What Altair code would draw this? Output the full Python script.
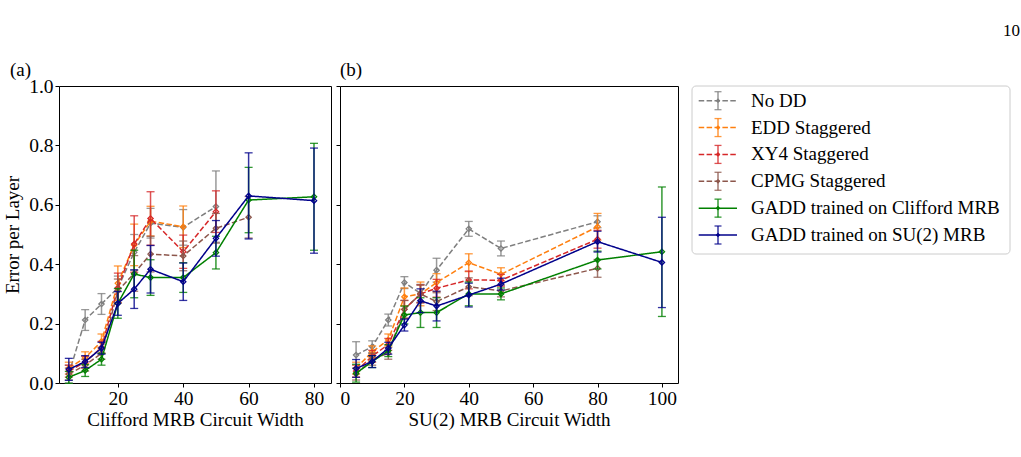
import altair as alt
import pandas as pd

# Series shown in both panels, in drawing order
names = [
    "No DD",
    "EDD Staggered",
    "XY4 Staggered",
    "CPMG Staggered",
    "GADD trained on Clifford MRB",
    "GADD trained on SU(2) MRB",
]
colors = ["#7f7f7f", "#ff7f0e", "#d62728", "#8c564b", "#008000", "#00008b"]
dashes = [[5.5, 2.4], [5.5, 2.4], [5.5, 2.4], [5.5, 2.4], [1, 0], [1, 0]]

# (a) Clifford MRB: circuit widths and error per layer (mean, error bar half-width)
a_x = {
    "No DD": [5, 10, 15, 20, 25, 30, 40, 50],
    "EDD Staggered": [5, 10, 15, 20, 25, 30, 40],
    "XY4 Staggered": [5, 10, 15, 20, 25, 30, 40, 50],
    "CPMG Staggered": [5, 10, 15, 20, 25, 30, 40, 50, 60],
    "GADD trained on Clifford MRB": [5, 10, 15, 20, 25, 30, 40, 50, 60, 80],
    "GADD trained on SU(2) MRB": [5, 10, 15, 20, 25, 30, 40, 50, 60, 80],
}
a_y = {
    "No DD": [0.030, 0.212, 0.266, 0.320, 0.440, 0.538, 0.524, 0.594],
    "EDD Staggered": [0.050, 0.085, 0.140, 0.336, 0.465, 0.545, 0.526],
    "XY4 Staggered": [0.040, 0.070, 0.120, 0.320, 0.468, 0.554, 0.442, 0.577],
    "CPMG Staggered": [0.030, 0.060, 0.100, 0.310, 0.369, 0.434, 0.428, 0.521, 0.558],
    "GADD trained on Clifford MRB": [0.019, 0.042, 0.080, 0.268, 0.367, 0.355, 0.355, 0.439, 0.616, 0.627],
    "GADD trained on SU(2) MRB": [0.046, 0.072, 0.117, 0.268, 0.316, 0.383, 0.341, 0.487, 0.630, 0.614],
}
a_err = {
    "No DD": [0.030, 0.035, 0.035, 0.040, 0.060, 0.050, 0.060, 0.120],
    "EDD Staggered": [0.020, 0.020, 0.025, 0.058, 0.070, 0.050, 0.070],
    "XY4 Staggered": [0.020, 0.020, 0.020, 0.050, 0.095, 0.090, 0.056, 0.070],
    "CPMG Staggered": [0.020, 0.020, 0.020, 0.040, 0.060, 0.060, 0.050, 0.050, 0.070],
    "GADD trained on Clifford MRB": [0.020, 0.020, 0.020, 0.050, 0.080, 0.060, 0.050, 0.055, 0.110, 0.180],
    "GADD trained on SU(2) MRB": [0.037, 0.020, 0.020, 0.040, 0.065, 0.080, 0.063, 0.060, 0.145, 0.177],
}

# (b) SU(2) MRB
b_x = {
    "No DD": [5, 10, 15, 20, 25, 30, 40, 50, 80],
    "EDD Staggered": [5, 10, 15, 20, 25, 30, 40, 50, 80],
    "XY4 Staggered": [5, 10, 15, 20, 25, 30, 40, 50, 80],
    "CPMG Staggered": [5, 10, 15, 20, 25, 30, 40, 50, 80],
    "GADD trained on Clifford MRB": [5, 10, 15, 20, 25, 30, 40, 50, 80, 100],
    "GADD trained on SU(2) MRB": [5, 10, 15, 20, 25, 30, 40, 50, 80, 100],
}
b_y = {
    "No DD": [0.094, 0.122, 0.212, 0.338, 0.302, 0.380, 0.519, 0.453, 0.543],
    "EDD Staggered": [0.050, 0.105, 0.145, 0.290, 0.300, 0.338, 0.405, 0.366, 0.526],
    "XY4 Staggered": [0.040, 0.090, 0.130, 0.248, 0.300, 0.319, 0.347, 0.346, 0.484],
    "CPMG Staggered": [0.030, 0.080, 0.100, 0.248, 0.300, 0.274, 0.324, 0.310, 0.386],
    "GADD trained on Clifford MRB": [0.033, 0.072, 0.109, 0.229, 0.237, 0.237, 0.300, 0.300, 0.414, 0.442],
    "GADD trained on SU(2) MRB": [0.049, 0.072, 0.117, 0.195, 0.277, 0.259, 0.296, 0.333, 0.476, 0.406],
}
b_err = {
    "No DD": [0.045, 0.020, 0.020, 0.020, 0.030, 0.040, 0.025, 0.025, 0.020],
    "EDD Staggered": [0.020, 0.020, 0.020, 0.030, 0.040, 0.030, 0.030, 0.022, 0.045],
    "XY4 Staggered": [0.020, 0.020, 0.020, 0.030, 0.030, 0.030, 0.030, 0.020, 0.030],
    "CPMG Staggered": [0.020, 0.020, 0.020, 0.030, 0.030, 0.030, 0.030, 0.020, 0.030],
    "GADD trained on Clifford MRB": [0.030, 0.020, 0.020, 0.030, 0.050, 0.050, 0.040, 0.020, 0.030, 0.218],
    "GADD trained on SU(2) MRB": [0.030, 0.020, 0.020, 0.020, 0.040, 0.050, 0.040, 0.020, 0.035, 0.152],
}

a_ticks = [20, 40, 60, 80]
b_ticks = [0, 20, 40, 60, 80, 100]
y_ticks = [0.0, 0.2, 0.4, 0.6, 0.8, 1.0]

FONT = "Liberation Serif"


def frame(xs, ys, errs):
    rows = []
    for s in names:
        for x, y, e in zip(xs[s], ys[s], errs[s]):
            rows.append({"series": s, "x": x, "y": y, "lo": y - e, "hi": y + e})
    return pd.DataFrame(rows)


color_scale = alt.Scale(domain=names, range=colors)
dash_scale = alt.Scale(domain=names, range=dashes)


def panel(df, xdomain, xticks, xtitle, show_y):
    x = alt.X(
        "x:Q",
        scale=alt.Scale(domain=xdomain, nice=False, zero=False),
        axis=alt.Axis(values=xticks, title=xtitle),
    )
    yaxis = alt.Axis(values=y_ticks, format=".1f", title="Error per Layer" if show_y else None,
                     labels=show_y)
    yscale = alt.Scale(domain=[0, 1], nice=False)
    color = alt.Color("series:N", scale=color_scale, legend=None)
    layers = []
    for s in names:
        base = alt.Chart(df).transform_filter(alt.datum.series == s)
        line = base.mark_line(strokeWidth=1.5).encode(
            x=x, y=alt.Y("y:Q", scale=yscale, axis=yaxis), color=color,
            strokeDash=alt.StrokeDash("series:N", scale=dash_scale, legend=None),
        )
        bar = base.mark_rule(strokeWidth=1.5, opacity=0.8).encode(
            x=x, y=alt.Y("lo:Q", scale=yscale), y2="hi:Q", color=color
        )
        cap_lo = base.mark_tick(orient="horizontal", size=8, thickness=1.3, opacity=0.8).encode(
            x=x, y=alt.Y("lo:Q", scale=yscale), color=color
        )
        cap_hi = base.mark_tick(orient="horizontal", size=8, thickness=1.3, opacity=0.8).encode(
            x=x, y=alt.Y("hi:Q", scale=yscale), color=color
        )
        pts = base.mark_point(shape="diamond", size=28, filled=False, strokeWidth=1.3, opacity=1).encode(
            x=x, y=alt.Y("y:Q", scale=yscale), color=color
        )
        layers += [line, bar, cap_lo, cap_hi, pts]
    return alt.layer(*layers)


df_a = frame(a_x, a_y, a_err)
df_b = frame(b_x, b_y, b_err)

title_props = dict(anchor="start", frame="group", fontSize=19, font=FONT, fontWeight="normal",
                   offset=6, color="black")

pa = panel(df_a, [2.0, 85.2], a_ticks, "Clifford MRB Circuit Width", True).properties(
    width=272, height=297,
    title=alt.TitleParams("(a)", dx=-49, dy=10, **title_props),
    view=alt.ViewBackground(stroke="black", strokeWidth=1),
)
pb = panel(df_b, [0, 105], b_ticks, "SU(2) MRB Circuit Width", False).properties(
    width=338, height=297,
    title=alt.TitleParams("(b)", **title_props),
    view=alt.ViewBackground(stroke="black", strokeWidth=1),
)

# Legend panel built from the series list
leg_df = pd.DataFrame({"series": names})
ly = alt.Y("series:N", scale=alt.Scale(type="point", domain=names, range=[14.7, 149], padding=0), axis=None)
lcolor = alt.Color("series:N", scale=color_scale, legend=None)
lbase = alt.Chart(leg_df)
box = alt.Chart(pd.DataFrame({"b": [0]})).mark_rect(
    fill="white", stroke="#cccccc", strokeWidth=1, cornerRadius=4
).encode(x=alt.value(5), x2=alt.value(323), y=alt.value(0), y2=alt.value(168))
lline = lbase.mark_rule(strokeWidth=1.5).encode(
    x=alt.value(11.7), x2=alt.value(50), y=ly, color=lcolor,
    strokeDash=alt.StrokeDash("series:N", scale=dash_scale, legend=None),
)
lbar = lbase.mark_tick(orient="vertical", size=18, thickness=1.5, opacity=0.8).encode(
    x=alt.value(31), y=ly, color=lcolor
)
lcap_hi = lbase.mark_tick(orient="horizontal", size=7, thickness=1.3, opacity=0.8, yOffset=-9).encode(
    x=alt.value(31), y=ly, color=lcolor
)
lcap_lo = lbase.mark_tick(orient="horizontal", size=7, thickness=1.3, opacity=0.8, yOffset=9).encode(
    x=alt.value(31), y=ly, color=lcolor
)
lpt = lbase.mark_point(shape="diamond", size=22, filled=True, opacity=1).encode(
    x=alt.value(31), y=ly, color=lcolor
)
ltext = lbase.mark_text(align="left", baseline="middle", font=FONT, fontSize=19, color="black").encode(
    x=alt.value(64), y=ly, text="series:N"
)
page = alt.Chart(pd.DataFrame({"t": ["10"]})).mark_text(
    align="right", baseline="middle", font=FONT, fontSize=17, color="black"
).encode(x=alt.value(333), y=alt.value(-55), text="t:N")

legend = alt.layer(box, lline, lbar, lcap_hi, lcap_lo, lpt, ltext, page).properties(
    width=323, height=168, view=alt.ViewBackground(stroke=None)
)

chart = alt.hconcat(pa, pb, legend, spacing=9, bounds="flush").properties(
    padding={"left": 3, "top": 22, "right": 0, "bottom": 0}
).configure_axis(
    grid=False, domain=False, tickColor="black", tickSize=4, tickWidth=1,
    labelFont=FONT, labelFontSize=19.5, labelColor="black", labelPadding=2,
    titleFont=FONT, titleFontSize=19, titleFontWeight="normal", titleColor="black",
).configure_axisY(titlePadding=6).configure_axisX(titlePadding=3)

chart.save("out.html", embed_options={"renderer": "svg", "actions": False})
